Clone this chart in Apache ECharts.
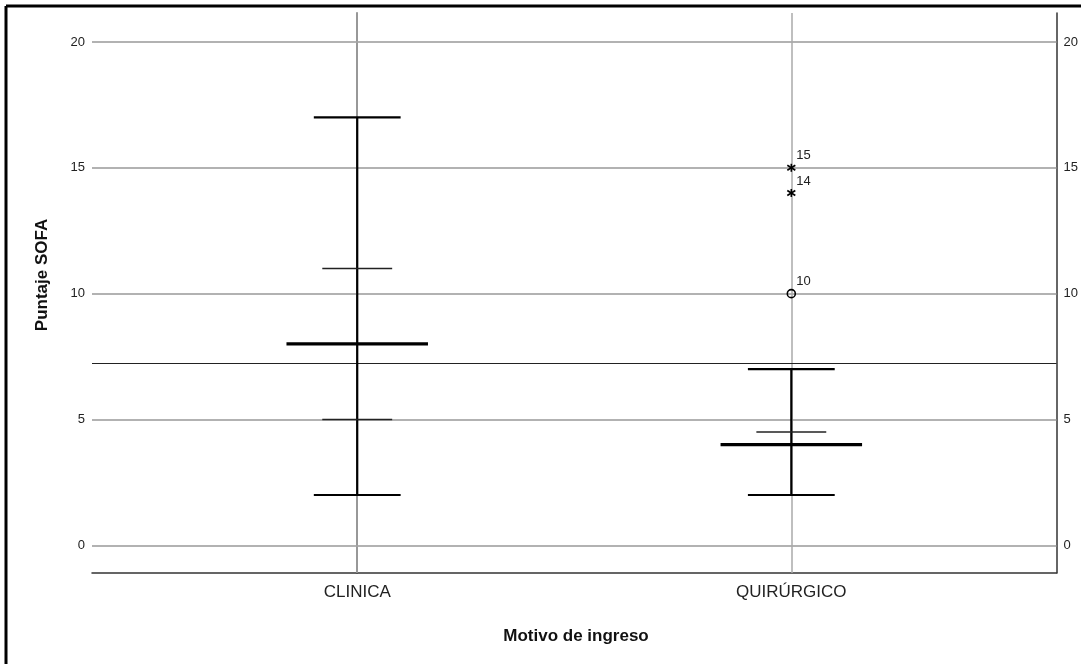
<!DOCTYPE html>
<html>
<head>
<meta charset="utf-8">
<script src="https://cdn.jsdelivr.net/npm/echarts@6/dist/echarts.min.js"></script>
<style>html,body{margin:0;padding:0;background:#fff;}#c{width:1081px;height:664px;}</style>
</head>
<body>
<div id="c"></div>
<script>
// ---- data ----
const categories = ['CLINICA', 'QUIRÚRGICO'];
// [categoryIndex, min, q1, median, q3, max]
const boxStats = [
  [0, 2, 5, 8, 11, 17],
  [1, 2, 4, 4, 4.5, 7]
];
// [categoryIndex, value, type, caseLabel]
const outliers = [
  [1, 10, 'circle', '10'],
  [1, 14, 'star', '14'],
  [1, 15, 'star', '15']
];
const yTicks = [0, 5, 10, 15, 20];
const referenceValue = 7.24;
const yTitle = 'Puntaje SOFA';
const xTitle = 'Motivo de ingreso';

const FONT = '"Liberation Sans", Arial, sans-serif';
const chart = echarts.init(document.getElementById('c'), null, {renderer: 'canvas'});

const yAxisBase = {
  type: 'value', min: -1.1, max: 21.15,
  axisLine: {show: true, lineStyle: {color: '#333', width: 1.5}},
  axisTick: {show: false},
  splitLine: {show: false},
  axisLabel: {customValues: yTicks, color: '#222', fontSize: 13, fontFamily: FONT, margin: 7}
};

const option = {
  animation: false,
  grid: {left: 92, right: 21, top: 13, bottom: 91},
  xAxis: {
    type: 'value', min: -0.611, max: 1.611,
    axisLine: {show: true, onZero: false, lineStyle: {color: '#333', width: 1.5}},
    axisTick: {show: false},
    splitLine: {show: false},
    axisLabel: {
      customValues: [0, 1],
      formatter: v => categories[Math.round(v)] || '',
      color: '#222', fontSize: 17, fontFamily: FONT, margin: 11
    }
  },
  yAxis: [
    Object.assign({}, yAxisBase, {position: 'left'}),
    Object.assign({}, yAxisBase, {position: 'right', axisLabel: Object.assign({}, yAxisBase.axisLabel)})
  ],
  graphic: [
    {type: 'line', shape: {x1: 6, y1: 6, x2: 1081, y2: 6}, style: {stroke: '#000', lineWidth: 3}},
    {type: 'line', shape: {x1: 6, y1: 6, x2: 6, y2: 664}, style: {stroke: '#000', lineWidth: 3}},
    {type: 'text', x: 42, y: 275, rotation: Math.PI / 2,
     style: {text: yTitle, font: 'bold 17px ' + FONT, fill: '#111', textAlign: 'center', textVerticalAlign: 'middle'}},
    {type: 'text', x: 576, y: 636,
     style: {text: xTitle, font: 'bold 17px ' + FONT, fill: '#111', textAlign: 'center', textVerticalAlign: 'middle'}}
  ],
  series: [
    {
      type: 'line', data: [], silent: true, z: 1,
      markLine: {
        silent: true, symbol: 'none', label: {show: false}, animation: false,
        data: yTicks.map(v => ({yAxis: v, lineStyle: {color: '#999', width: 1.5, type: 'solid'}}))
          .concat(categories.map((c, i) => ({xAxis: i, lineStyle: {color: '#aaa', width: 1.5, type: 'solid'}})))
          .concat([{yAxis: referenceValue, lineStyle: {color: '#222', width: 1.2, type: 'solid'}}])
      }
    },
    {
      type: 'custom', silent: true, z: 10,
      data: boxStats,
      renderItem: function (params, api) {
        const x = api.value(0);
        const pMin = api.coord([x, api.value(1)]);
        const pQ1 = api.coord([x, api.value(2)]);
        const pMed = api.coord([x, api.value(3)]);
        const pQ3 = api.coord([x, api.value(4)]);
        const pMax = api.coord([x, api.value(5)]);
        const cap = api.size([0.1, 0])[0];
        const q = api.size([0.0805, 0])[0];
        const med = api.size([0.163, 0])[0];
        const cx = pMin[0];
        const L = (x1, y1, x2, y2, w, c) => ({type: 'line', shape: {x1, y1, x2, y2}, style: {stroke: c, lineWidth: w}});
        return {type: 'group', children: [
          L(cx, pMin[1], cx, pMax[1], 2.2, '#000'),
          L(cx - cap, pMin[1], cx + cap, pMin[1], 2.2, '#000'),
          L(cx - cap, pMax[1], cx + cap, pMax[1], 2.2, '#000'),
          L(cx - q, pQ1[1], cx + q, pQ1[1], 1.6, '#222'),
          L(cx - q, pQ3[1], cx + q, pQ3[1], 1.6, '#222'),
          L(cx - med, pMed[1], cx + med, pMed[1], 3.2, '#000')
        ]};
      }
    },
    {
      type: 'custom', silent: true, z: 11,
      data: outliers,
      renderItem: function (params, api) {
        const d = outliers[params.dataIndex];
        const p = api.coord([d[0], d[1]]);
        const children = [];
        if (d[2] === 'circle') {
          children.push({type: 'circle', shape: {cx: p[0], cy: p[1], r: 4}, style: {fill: 'none', stroke: '#000', lineWidth: 1.6}});
        } else {
          const s = {stroke: '#000', lineWidth: 1.6};
          children.push({type: 'line', shape: {x1: p[0], y1: p[1] - 4, x2: p[0], y2: p[1] + 4}, style: s});
          children.push({type: 'line', shape: {x1: p[0] - 4, y1: p[1] - 2.5, x2: p[0] + 4, y2: p[1] + 2.5}, style: s});
          children.push({type: 'line', shape: {x1: p[0] - 4, y1: p[1] + 2.5, x2: p[0] + 4, y2: p[1] - 2.5}, style: s});
        }
        children.push({type: 'text', x: p[0] + 5, y: p[1] - 12,
          style: {text: d[3], font: '13px ' + FONT, fill: '#222', textAlign: 'left', textVerticalAlign: 'middle'}});
        return {type: 'group', children};
      }
    }
  ]
};
chart.setOption(option);
</script>
</body>
</html>
